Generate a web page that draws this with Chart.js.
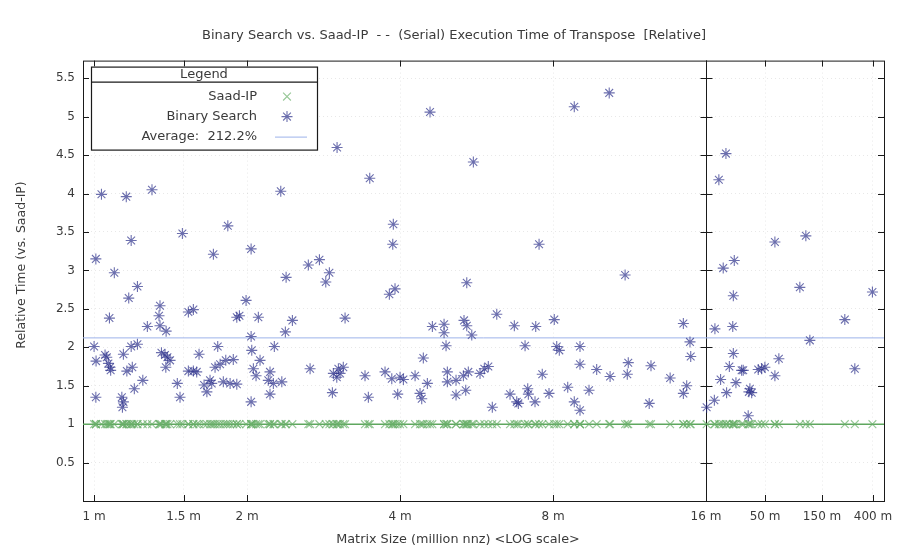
<!DOCTYPE html>
<html>
<head>
<meta charset="utf-8">
<title>Binary Search vs. Saad-IP</title>
<script src="https://cdn.jsdelivr.net/npm/chart.js@4.4.1/dist/chart.umd.min.js"></script>
<style>
  html, body { margin: 0; padding: 0; background: #fff; }
  #wrap { width: 908px; height: 553px; position: relative; }
</style>
</head>
<body>
<div id="wrap"><canvas id="chart"></canvas></div>
<script>
// Matrix sizes (million nnz), one per test matrix
const matrixSizes = [
  1.008, 1.183, 1.096, 1.217, 1.170, 1.072, 1.000, 1.009, 1.051, 1.059,
  1.067, 1.075, 1.078, 1.142, 1.008, 1.134, 1.142, 1.137, 1.160, 1.189,
  1.200, 1.247, 1.183, 1.217, 1.273, 1.348, 1.342, 1.348, 1.386, 1.357,
  1.379, 1.394, 1.411, 1.384, 1.492, 1.833, 1.717, 2.037, 1.533, 1.568,
  1.458, 1.476, 1.533, 1.568, 1.592, 1.609, 1.751, 1.646, 1.667, 1.704,
  1.691, 1.730, 1.770, 1.816, 1.879, 1.796, 1.852, 1.909, 1.909, 1.932,
  2.105, 1.991, 2.037, 2.043, 2.058, 2.083, 2.121, 2.037, 2.219, 2.202,
  2.219, 2.253, 2.341, 2.263, 2.387, 2.456, 2.379, 2.640, 2.776, 2.904,
  2.857, 3.118, 2.661, 2.957, 3.025, 3.093, 3.048, 3.003, 2.944, 3.413,
  3.465, 1.034, 1.157, 1.300, 2.330, 3.007, 3.487, 4.582, 5.576, 8.809,
  10.32, 3.880, 3.870, 7.510, 11.09, 3.811, 3.910, 5.412, 6.200, 4.631,
  4.883, 4.883, 4.927, 5.345, 5.412, 5.536, 6.714, 7.397, 8.045, 7.048,
  8.135, 8.231, 9.040, 9.040, 9.750, 10.36, 11.25, 11.20, 12.47, 13.60,
  14.44, 14.88, 14.93, 14.66, 14.44, 16.20, 12.37, 4.445, 3.737, 3.853,
  4.000, 4.061, 4.282, 3.958, 4.379, 4.413, 4.527, 4.956, 4.956, 5.155,
  5.155, 5.330, 5.450, 5.747, 5.860, 5.967, 5.387, 6.076, 6.584, 6.787,
  6.837, 7.134, 7.154, 7.373, 7.619, 7.856, 8.551, 8.809, 9.040, 9.417,
  23.5, 20.5, 27.6, 22.3, 60.4, 109.7, 27.1, 97.7, 396, 19.0,
  26.8, 232.5, 118.5, 27.1, 25.1, 31.8, 32.8, 43.8, 49.8, 46.8,
  65.2, 60.4, 21.2, 28.5, 37.3, 38.6, 36.6, 23.8, 18.8, 36.1,
  282
];

// Binary Search time relative to Saad-IP, same order as matrixSizes
const binarySearch = [
  3.15, 3.39, 2.97, 2.79, 2.64, 2.38, 2.01, 1.82, 1.90, 1.87,
  1.79, 1.74, 1.70, 1.91, 1.35, 1.35, 1.29, 1.22, 1.69, 1.74,
  1.46, 1.57, 2.01, 2.04, 2.27, 2.54, 2.41, 2.28, 2.21, 1.93,
  1.90, 1.87, 1.83, 1.74, 3.48, 3.58, 3.21, 3.28, 2.46, 2.49,
  1.53, 1.35, 1.69, 1.69, 1.68, 1.91, 2.01, 1.51, 1.42, 1.53,
  1.57, 1.74, 1.78, 1.83, 1.84, 1.55, 1.53, 1.52, 2.39, 2.41,
  2.39, 2.61, 2.14, 1.96, 1.72, 1.63, 1.83, 1.29, 1.68, 1.57,
  1.39, 1.53, 1.55, 2.01, 2.91, 2.35, 2.20, 3.07, 3.14, 2.97,
  2.85, 2.38, 1.72, 1.66, 1.72, 1.74, 1.66, 1.61, 1.41, 1.63,
  1.35, 3.99, 3.96, 4.05, 4.03, 4.60, 4.20, 5.06, 4.41, 5.13,
  5.31, 3.60, 3.34, 3.34, 2.94, 2.69, 2.76, 2.84, 2.43, 2.27,
  2.30, 2.19, 2.02, 2.35, 2.28, 2.16, 2.28, 2.27, 2.36, 2.02,
  2.01, 1.96, 2.01, 1.78, 1.71, 1.62, 1.80, 1.65, 1.76, 1.60,
  2.31, 2.07, 1.88, 1.50, 1.40, 1.22, 1.27, 1.86, 1.68, 1.59,
  1.61, 1.58, 1.63, 1.39, 1.40, 1.33, 1.53, 1.68, 1.55, 1.57,
  1.38, 1.63, 1.68, 1.66, 1.72, 1.75, 1.44, 1.22, 1.39, 1.29,
  1.27, 1.46, 1.39, 1.29, 1.65, 1.40, 1.48, 1.29, 1.18, 1.44,
  4.52, 4.18, 3.13, 3.03, 3.37, 3.45, 2.67, 2.78, 2.72, 2.24,
  2.27, 2.36, 2.09, 1.92, 1.75, 1.70, 1.70, 1.71, 1.74, 1.72,
  1.85, 1.63, 1.58, 1.54, 1.46, 1.41, 1.42, 1.41, 1.31, 1.11,
  1.72
];

// Saad-IP is the baseline, so its relative time is 1 for every matrix
const saadIPRelative = 1.0;
const averageRelative = 2.122;

const xTickSizes = [1, 1.5, 2, 4, 8, 16, 50, 150, 400];
const xTickLabels = ['1 m', '1.5 m', '2 m', '4 m', '8 m', '16 m', '50 m', '150 m', '400 m'];
const yTickValues = [0.5, 1, 1.5, 2, 2.5, 3, 3.5, 4, 4.5, 5, 5.5];

const xAxisTitle = 'Matrix Size (million nnz) <LOG scale>';
const yAxisTitle = 'Relative Time (vs. Saad-IP)';

// x axis: log2 up to 16 m, then a squeezed log2 for the big matrices
const BREAK_SIZE = 16;
const TAIL_SQUEEZE = 0.235;
const X_MIN_SIZE = 0.951;
const X_MAX_SIZE = 495;

function toAxis(m) {
    if (m <= BREAK_SIZE) return Math.log2(m);
    return Math.log2(BREAK_SIZE) + Math.log2(m / BREAK_SIZE) * TAIL_SQUEEZE;
}

const FONT = "'DejaVu Sans', 'Liberation Sans', sans-serif";
const TEXT = '#3a3a3a';
const GRID = 'rgba(0,0,0,0.09)';

const xMin = toAxis(X_MIN_SIZE);
const xMax = toAxis(X_MAX_SIZE);

// Frame with inward ticks (gnuplot style) + the 16 m divider
const framePlugin = {
    id: 'frame',
    beforeDatasetsDraw(chart) {
        const { ctx, chartArea: a, scales: { x, y } } = chart;
        const len = 6;
        ctx.save();
        ctx.strokeStyle = '#1a1a1a';
        ctx.lineWidth = 1;
        ctx.strokeRect(a.left + 0.5, a.top + 0.5, a.right - a.left, a.bottom - a.top);

        const divX = Math.round(x.getPixelForValue(toAxis(BREAK_SIZE))) + 0.5;
        ctx.beginPath();
        ctx.moveTo(divX, a.top);
        ctx.lineTo(divX, a.bottom);

        xTickSizes.forEach(s => {
            const px = Math.round(x.getPixelForValue(toAxis(s))) + 0.5;
            ctx.moveTo(px, a.bottom); ctx.lineTo(px, a.bottom - len);
            ctx.moveTo(px, a.top); ctx.lineTo(px, a.top + len);
        });
        yTickValues.forEach(v => {
            const py = Math.round(y.getPixelForValue(v)) + 0.5;
            ctx.moveTo(a.left, py); ctx.lineTo(a.left + len, py);
            ctx.moveTo(a.right, py); ctx.lineTo(a.right - len, py);
            ctx.moveTo(divX - len, py); ctx.lineTo(divX + len, py);
        });
        ctx.stroke();
        ctx.restore();
    }
};

// gnuplot centres the axis labels on the page, not on the plot box
const axisTitlePlugin = {
    id: 'axisTitles',
    afterDraw(chart) {
        const { ctx, width } = chart;
        ctx.save();
        ctx.fillStyle = TEXT;
        ctx.font = '12.8px ' + FONT;
        ctx.textAlign = 'center';
        ctx.textBaseline = 'middle';
        ctx.fillText(xAxisTitle, width / 2 + 4, 540);
        ctx.font = '12.5px ' + FONT;
        ctx.translate(22, 265);
        ctx.rotate(-Math.PI / 2);
        ctx.fillText(yAxisTitle, 0, 0);
        ctx.restore();
    }
};

// Boxed legend with a "Legend" header, drawn inside the plot
const legendPlugin = {
    id: 'boxLegend',
    afterDatasetsDraw(chart) {
        const { ctx, chartArea: a } = chart;
        const x0 = a.left + 8, y0 = a.top + 6, w = 226, h = 83, head = 15;
        const ds = chart.data.datasets;
        ctx.save();
        ctx.fillStyle = '#fff';
        ctx.fillRect(x0, y0, w, h);
        ctx.strokeStyle = '#1a1a1a';
        ctx.lineWidth = 1.2;
        ctx.strokeRect(x0 + 0.5, y0 + 0.5, w, h);
        ctx.beginPath();
        ctx.moveTo(x0, y0 + head + 0.5);
        ctx.lineTo(x0 + w, y0 + head + 0.5);
        ctx.stroke();

        ctx.font = '13px ' + FONT;
        ctx.fillStyle = TEXT;
        ctx.textBaseline = 'middle';
        ctx.textAlign = 'center';
        ctx.fillText('Legend', x0 + w / 2, y0 + 8);

        ctx.textAlign = 'right';
        [ds[0], ds[1], ds[2]].forEach((d, i) => {
            const ry = y0 + 30 + i * 20;
            ctx.fillStyle = TEXT;
            ctx.fillText(d.label, x0 + 166, ry);
            ctx.strokeStyle = d.borderColor;
            ctx.lineWidth = d.borderWidth;
            if (d.type === 'line') {
                ctx.beginPath();
                ctx.moveTo(x0 + 184, ry + 0.5);
                ctx.lineTo(x0 + 216, ry + 0.5);
                ctx.stroke();
            } else {
                Chart.helpers.drawPoint(ctx, {
                    pointStyle: d.pointStyle, radius: d.pointRadius, rotation: 0, borderWidth: d.borderWidth
                }, x0 + 196, ry);
            }
        });
        ctx.restore();
    }
};

const ctx = document.getElementById('chart');

new Chart(ctx, {
    data: {
        datasets: [
            {
                type: 'scatter',
                label: 'Saad-IP',
                data: matrixSizes.map(s => ({ x: toAxis(s), y: saadIPRelative })),
                pointStyle: 'crossRot',
                pointRadius: 5.5,
                borderColor: 'rgba(105, 175, 105, 0.7)',
                backgroundColor: 'rgba(0,0,0,0)',
                borderWidth: 1.1,
                order: 1
            },
            {
                type: 'scatter',
                label: 'Binary Search',
                data: matrixSizes.map((s, i) => ({ x: toAxis(s), y: binarySearch[i] })),
                pointStyle: 'star',
                pointRadius: 5.5,
                borderColor: 'rgba(45, 50, 140, 0.7)',
                backgroundColor: 'rgba(0,0,0,0)',
                borderWidth: 1.1,
                order: 0
            },
            {
                type: 'line',
                label: 'Average:  ' + (averageRelative * 100).toFixed(1) + '%',
                data: [{ x: xMin, y: averageRelative }, { x: xMax, y: averageRelative }],
                borderColor: '#9db3ea',
                borderWidth: 1,
                pointRadius: 0,
                order: 3
            },
            {
                type: 'line',
                label: '',
                data: [{ x: xMin, y: saadIPRelative }, { x: xMax, y: saadIPRelative }],
                borderColor: '#5fa75f',
                borderWidth: 1.5,
                pointRadius: 0,
                order: 2
            }
        ]
    },
    options: {
        responsive: true,
        maintainAspectRatio: false,
        animation: false,
        devicePixelRatio: 1,
        layout: { padding: 0 },
        plugins: {
            legend: { display: false },
            tooltip: { enabled: false },
            title: {
                display: true,
                text: 'Binary Search vs. Saad-IP  - -  (Serial) Execution Time of Transpose  [Relative]',
                color: TEXT,
                font: { family: FONT, size: 13, weight: 'normal' },
                padding: { top: 28, bottom: 17 }
            }
        },
        scales: {
            x: {
                type: 'linear',
                min: xMin,
                max: xMax,
                afterBuildTicks: s => { s.ticks = xTickSizes.map(v => ({ value: toAxis(v) })); },
                afterFit: s => { s.height = 52; },
                ticks: {
                    callback: (v, i) => xTickLabels[i],
                    autoSkip: false,
                    maxRotation: 0,
                    padding: 9,
                    color: TEXT,
                    font: { family: FONT, size: 12 }
                },
                grid: { color: GRID, drawTicks: false },
                border: { display: false, dash: [1, 3] }
            },
            y: {
                type: 'linear',
                min: 0,
                max: 5.73,
                afterBuildTicks: s => { s.ticks = yTickValues.map(v => ({ value: v })); },
                afterFit: s => { s.width = 83; },
                ticks: {
                    callback: v => String(v),
                    padding: 8,
                    color: TEXT,
                    font: { family: FONT, size: 12 }
                },
                grid: { color: GRID, drawTicks: false },
                border: { display: false, dash: [1, 3] }
            },
            // empty right margin so the plot box ends where the reference does
            yRight: {
                type: 'linear',
                position: 'right',
                min: 0,
                max: 1,
                afterFit: s => { s.width = 24; },
                ticks: { display: false },
                grid: { display: false },
                border: { display: false }
            }
        }
    },
    plugins: [framePlugin, legendPlugin, axisTitlePlugin]
});
</script>
</body>
</html>
